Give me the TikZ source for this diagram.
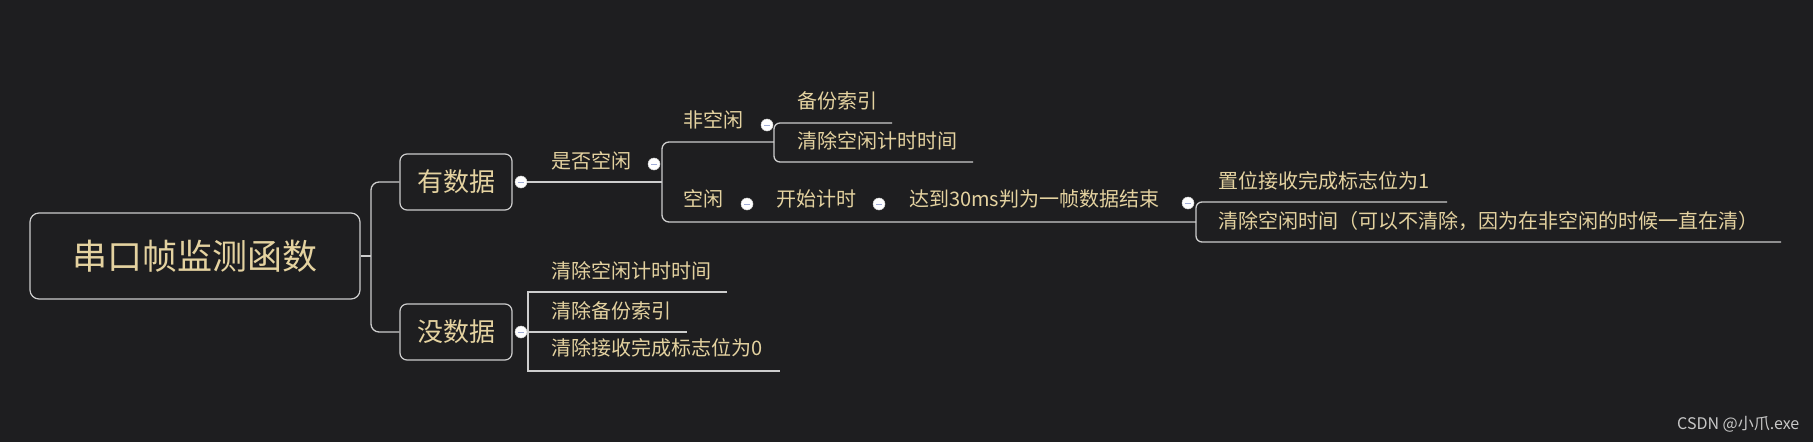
\documentclass[tikz,border=0pt]{standalone}
\usepackage{fontspec}
\setmainfont{Noto Sans CJK SC}
\definecolor{bg}{RGB}{30,30,32}
\definecolor{txt}{RGB}{228,210,160}
\definecolor{ln}{RGB}{205,205,205}
\definecolor{boxln}{RGB}{205,205,205}
\definecolor{minuscol}{RGB}{160,172,215}
\definecolor{wm}{RGB}{200,200,200}
\tikzset{
  conn/.style={draw=ln, line width=1.3pt},
  rootbox/.style={draw=boxln, line width=1.2pt, rounded corners=9pt, minimum width=330pt, minimum height=86pt, inner sep=0pt, text=txt, font=\fontsize{35}{40}\selectfont},
  subbox/.style={draw=boxln, line width=1.2pt, rounded corners=7pt, minimum width=112pt, minimum height=56pt, inner sep=0pt, text=txt, font=\fontsize{26}{30}\selectfont},
  lbl/.style={anchor=west, inner sep=0pt, text=txt, text height=0.88em, text depth=0.12em, font=\fontsize{20}{24}\selectfont},
  dotnode/.style={circle, fill=white, draw=gray!35, line width=0.5pt, minimum size=12pt, inner sep=0pt,
    path picture={\draw[minuscol, line width=1pt] ([xshift=-3pt]path picture bounding box.center) -- ([xshift=3pt]path picture bounding box.center);}},
}
\begin{document}
\begin{tikzpicture}[x=1pt,y=-1pt]
\useasboundingbox (0,0) rectangle (1813,442);
\fill[bg] (0,0) rectangle (1813,442);

% main nodes
\node[rootbox] (root) at (195,256) {串口帧监测函数};
\node[subbox] (yes) at (456,182) {有数据};
\node[subbox] (no) at (456,332) {没数据};

% dot positions
\coordinate (cyes) at (521,182);
\coordinate (cq) at (654,164);
\coordinate (cbusy) at (767,125);
\coordinate (cidle) at (747,204);
\coordinate (ctimer) at (879,204);
\coordinate (creach) at (1188,203);
\coordinate (cno) at (521,332);

% junction coordinates
\coordinate (j) at (371,256);
\coordinate (qend) at (662,182);
\coordinate (qt) at (662,142);
\coordinate (qb) at (662,222);
\coordinate (busyu) at (774,142);
\coordinate (bk1) at (774,123);
\coordinate (bk2) at (774,162);
\coordinate (bak) at (892,123);
\coordinate (clr1) at (973,162);
\coordinate (rb) at (1196,222);
\coordinate (rb1) at (1196,202);
\coordinate (rb2) at (1196,242);
\coordinate (set1) at (1447,202);
\coordinate (clr2) at (1781,242);
\coordinate (nend) at (687,332);
\coordinate (n1) at (528,292);
\coordinate (n2) at (528,371);
\coordinate (nt) at (727,292);
\coordinate (nb) at (780,371);

% connectors
\draw[conn] (root.east) -- (j);
\draw[conn, rounded corners=8pt] (yes.west) -| (j) |- (no.west);
\draw[conn] (cyes) -- (qend);
\draw[conn, rounded corners=7pt] (busyu) -- (qt) -- (qb) -- (rb);
\draw[conn, rounded corners=6pt] (bak) -- (bk1) -- (bk2) -- (clr1);
\draw[conn, rounded corners=6pt] (set1) -- (rb1) -- (rb2) -- (clr2);
\draw[conn] (cno) -- (nend);
\draw[conn] (nt) -- (n1) -- (n2) -- (nb);

% dots
\node[dotnode] (dyes) at (cyes) {};
\node[dotnode] (dq) at (cq) {};
\node[dotnode] (dbusy) at (cbusy) {};
\node[dotnode] (didle) at (cidle) {};
\node[dotnode] (dtimer) at (ctimer) {};
\node[dotnode] (dreach) at (creach) {};
\node[dotnode] (dno) at (cno) {};

% labels
\node[lbl] (q) at (551,165) {是否空闲};
\node[lbl] (busy) at (683,124) {非空闲};
\node[lbl] (backup) at (797,105) {备份索引};
\node[lbl] (clrtime) at (797,145) {清除空闲计时时间};
\node[lbl] (idle) at (683,203) {空闲};
\node[lbl] (timer) at (776,203) {开始计时};
\node[lbl] (reach) at (909,203) {达到30ms判为一帧数据结束};
\node[lbl] (setflag) at (1218,185) {置位接收完成标志位为1};
\node[lbl] (clridle) at (1218,225) {清除空闲时间（可以不清除，因为在非空闲的时候一直在清）};
\node[lbl] (nclr1) at (551,275) {清除空闲计时时间};
\node[lbl] (nclr2) at (551,315) {清除备份索引};
\node[lbl] (nclr3) at (551,352) {清除接收完成标志位为0};

% watermark
\node[anchor=west, inner sep=0pt, text=wm, font=\fontsize{16}{18}\selectfont] (wmark) at (1677,424) {CSDN @小爪.exe};
\end{tikzpicture}
\end{document}
